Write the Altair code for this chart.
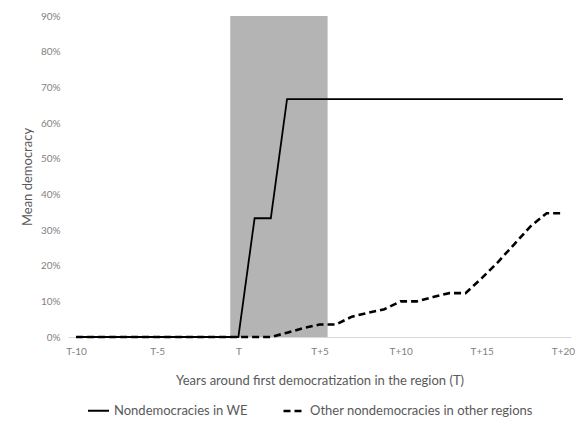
import altair as alt
import pandas as pd

years = list(range(-10, 21))
we_values = [0.0] * 11 + [0.333, 0.333] + [0.667] * 18
other_values = [0.0] * 13 + [0.012, 0.025, 0.035, 0.035, 0.057, 0.068, 0.078,
                             0.10, 0.10, 0.112, 0.123, 0.123, 0.165, 0.21, 0.26,
                             0.31, 0.347, 0.347]
series_names = ["Nondemocracies in WE", "Other nondemocracies in other regions"]
shade_start = [-0.5]
shade_end = [5.5]
shade_top = [0.9]
x_ticks = [-10, -5, 0, 5, 10, 15, 20]
y_ticks = [0, 0.1, 0.2, 0.3, 0.4, 0.5, 0.6, 0.7, 0.8, 0.9]

rows = []
for t, v in zip(years, we_values):
    rows.append({"t": t, "value": v, "series": series_names[0]})
for t, v in zip(years, other_values):
    rows.append({"t": t, "value": v, "series": series_names[1]})
df = pd.DataFrame(rows)
shade_df = pd.DataFrame({"t": shade_start, "t2": shade_end, "value": [0.0], "value2": shade_top})

FONT = "Lato"

x_scale = alt.Scale(domain=[-10.5, 20.5], nice=False, zero=False)
y_scale = alt.Scale(domain=[0, 0.9], nice=False)

x_axis = alt.Axis(
    values=x_ticks,
    labelExpr="datum.value == 0 ? 'T' : (datum.value > 0 ? 'T+' + datum.value : 'T' + datum.value)",
    ticks=False, grid=False, domainColor="#d9d9d9", domainWidth=1,
    labelColor="#7f7f7f", labelFont=FONT, labelFontSize=10, labelPadding=9,
    labelOverlap=False, labelFlush=False,
    title="Years around first democratization in the region (T)",
    titleFont=FONT, titleFontSize=13, titleFontWeight="normal", titleColor="#595959",
    titlePadding=18,
)
y_axis = alt.Axis(
    values=y_ticks, format=".0%", ticks=False, grid=False, domain=False,
    labelColor="#7f7f7f", labelFont=FONT, labelFontSize=10, labelPadding=8,
    labelOverlap=False, labelFlush=False,
    title="Mean democracy", titleFont=FONT, titleFontSize=13,
    titleFontWeight="normal", titleColor="#595959", titlePadding=6,
)

shade = alt.Chart(shade_df).mark_rect(color="#b4b4b4").encode(
    x=alt.X("t:Q", scale=x_scale, axis=x_axis),
    x2="t2:Q",
    y=alt.Y("value:Q", scale=y_scale, axis=y_axis),
    y2="value2:Q",
)

lines = alt.Chart(df).mark_line(color="black", strokeCap="butt").encode(
    x=alt.X("t:Q", scale=x_scale, axis=x_axis),
    y=alt.Y("value:Q", scale=y_scale, axis=y_axis),
    strokeDash=alt.StrokeDash(
        "series:N",
        scale=alt.Scale(domain=series_names, range=[[1, 0], [7, 4]]),
        legend=alt.Legend(
            title=None, orient="none", legendX=19, legendY=383,
            direction="horizontal", symbolType="stroke", symbolSize=441,
            symbolStrokeWidth=2.2, symbolStrokeColor="black",
            labelFont=FONT, labelFontSize=13, labelColor="#595959",
            labelOffset=4, columnPadding=30, padding=0, labelLimit=400,
        ),
    ),
    strokeWidth=alt.StrokeWidth(
        "series:N",
        scale=alt.Scale(domain=series_names, range=[1.8, 2.6]),
        legend=None,
    ),
)

chart = alt.layer(shade, lines).properties(
    width=503, height=321,
    background="white",
    autosize=alt.AutoSizeParams(type="none"),
    padding={"left": 60, "top": 8, "right": 7, "bottom": 82},
).configure_view(stroke=None)

chart.save("out.html", embed_options={"renderer": "svg", "actions": False})
